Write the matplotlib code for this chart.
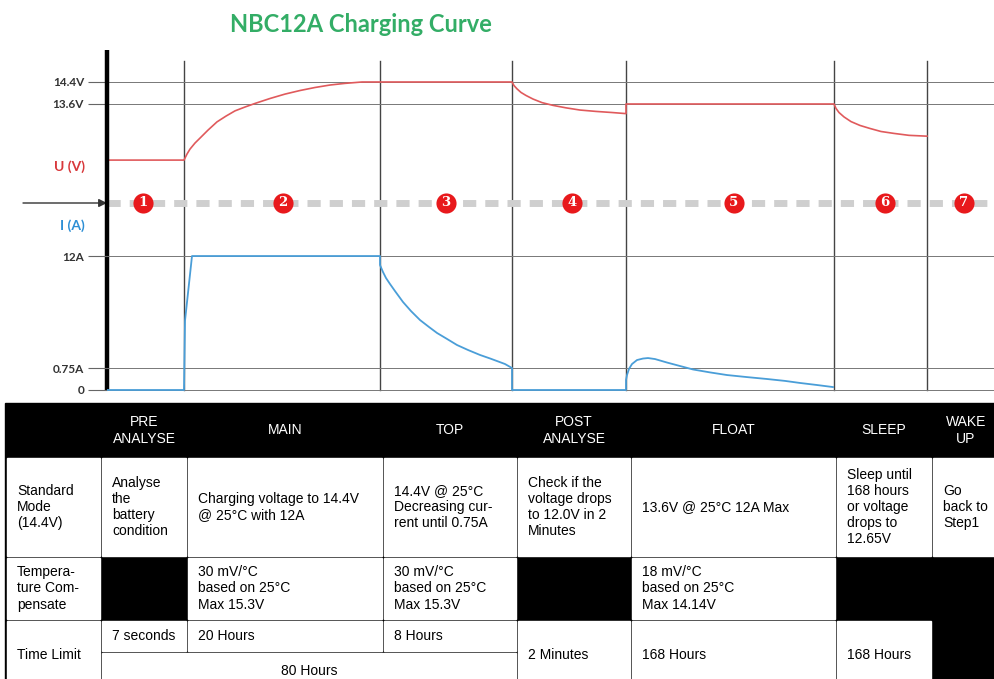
import matplotlib.pyplot as plt
import numpy as np
from matplotlib.patches import Rectangle
from matplotlib.transforms import blended_transform_factory

# schematic time axis, 0 = start of step 1
phase_edges = [77, 273, 405, 519, 727, 820]
t_end = 888
step_labels = ['1', '2', '3', '4', '5', '6', '7']
step_label_t = [36, 176, 339, 465, 627, 778, 857]

# charging voltage U (V)
volt_t = [0, 77, 80, 83, 88, 93, 101, 110, 119, 128, 138, 148, 163, 178, 193, 208, 223, 238, 255,
          405, 407, 410, 414, 419, 426, 435, 446, 459, 473, 489, 505, 519,
          519, 727,
          729, 732, 737, 744, 753, 763, 774, 787, 802, 820]
volt_v = [11.56, 11.56, 11.78, 11.96, 12.18, 12.36, 12.65, 12.95, 13.16, 13.35, 13.49, 13.62, 13.8,
          13.96, 14.09, 14.2, 14.29, 14.35, 14.4,
          14.4, 14.27, 14.15, 14.02, 13.91, 13.78, 13.65, 13.55, 13.46, 13.38, 13.33, 13.29, 13.25,
          13.6, 13.6,
          13.44, 13.29, 13.13, 12.96, 12.82, 12.71, 12.6, 12.53, 12.46, 12.43]

# charging current I (A)
amp_t = [0, 77, 78, 85, 273,
         273, 276, 279, 283, 288, 296, 304, 313, 322, 330, 340, 350, 361, 373, 383, 390, 398, 405,
         405, 519,
         519, 520, 522, 525, 530, 536, 541, 548, 560, 573, 586, 603, 620, 640, 660, 678, 693, 710, 726]
amp_a = [0, 0, 5.5, 12, 12,
         11.1, 10.39, 9.79, 9.19, 8.48, 7.38, 6.47, 5.57, 4.87, 4.27, 3.67, 3.06, 2.56, 2.06, 1.71,
         1.45, 1.15, 0.75,
         0, 0,
         0.34, 0.51, 0.72, 1.15, 1.55, 1.70, 1.75, 1.65, 1.30, 0.95, 0.70, 0.60, 0.51, 0.44, 0.375,
         0.31, 0.24, 0.17, 0.10]

volt_ticks = [14.4, 13.6]
volt_tick_labels = ['14.4V', '13.6V']
amp_ticks = [12, 0.75, 0]
amp_tick_labels = ['12A', '0.75A', '0']

# table
col_edges = [6, 101, 187, 383, 517, 631, 836, 932, 1000]
row_edges = [404, 457, 557, 620, 690]
time_split = 652
headers = ['', 'PRE\nANALYSE', 'MAIN', 'TOP', 'POST\nANALYSE', 'FLOAT', 'SLEEP', 'WAKE\nUP']
standard_mode = ['Standard\nMode\n(14.4V)', 'Analyse\nthe\nbattery\ncondition',
                 'Charging voltage to 14.4V\n@ 25°C with 12A',
                 '14.4V @ 25°C\nDecreasing cur-\nrent until 0.75A',
                 'Check if the\nvoltage drops\nto 12.0V in 2\nMinutes',
                 '13.6V @ 25°C 12A Max',
                 'Sleep until\n168 hours\nor voltage\ndrops to\n12.65V',
                 'Go\nback to\nStep1']
temp_comp = ['Tempera-\nture Com-\npensate', None, '30 mV/°C\nbased on 25°C\nMax 15.3V',
             '30 mV/°C\nbased on 25°C\nMax 15.3V', None,
             '18 mV/°C\nbased on 25°C\nMax 14.14V', None, None]
time_limit = ['Time Limit', '7 seconds', '20 Hours', '8 Hours', '2 Minutes',
              '168 Hours', '168 Hours', None]
total_limit = '80 Hours'

RED = '#e05a5c'
BLUE = '#4a9ed8'

fig = plt.figure(figsize=(9.95, 6.79), dpi=100)

# full-figure axes in pixel units for title, labels and table
axT = fig.add_axes([0, 0, 1, 1])
axT.set_xlim(0, 995)
axT.set_ylim(679, 0)
axT.axis('off')

rect = [107 / 995, 1 - 395 / 679, 888 / 995, 355 / 679]
axV = fig.add_axes(rect)
axV.patch.set_alpha(0)
axI = fig.add_axes(rect, sharex=axV)
axI.patch.set_alpha(0)

# current axis: piecewise linear scale (0 .. 0.75A stretched)
a_knots = [-5, 0, 0.75, 12, 40]
u_knots = [-146.7, 0, 22, 134, 412.8]
fwd = lambda a: np.interp(a, a_knots, u_knots)
inv = lambda u: np.interp(u, u_knots, a_knots)
axI.set_yscale('function', functions=(fwd, inv))

axV.set_xlim(0, t_end)
axV.set_ylim(3.018, 15.927)
axI.set_ylim(-0.1705, 33.70)

for ax, ticks, labels in [(axV, volt_ticks, volt_tick_labels), (axI, amp_ticks, amp_tick_labels)]:
    for s in ax.spines.values():
        s.set_visible(False)
    ax.set_xticks([])
    ax.set_yticks(ticks)
    ax.set_yticklabels(labels, fontweight='bold', fontfamily='Lato')
    ax.yaxis.set_minor_locator(plt.NullLocator())
    ax.tick_params(axis='y', length=14, width=0.8, color='#666', pad=2.5,
                   labelsize=8.5, labelcolor='#333')
    ax.grid(axis='y', color='#777', lw=0.7)

trV = blended_transform_factory(axV.transData, axV.transAxes)
# phase separators
for e in phase_edges:
    axV.plot([e, e], [0.014, 0.941], transform=trV, color='#444', lw=1.0, zorder=1)
# main axis
axV.plot([0, 0], [0.014, 0.972], transform=trV, color='black', lw=3.2,
         solid_capstyle='butt', clip_on=False, zorder=5)
# step line
axV.plot([0, t_end], [0.541, 0.541], transform=trV, color='#cfcfcf', lw=5,
         linestyle=(0, (1.9, 1.3)), dash_capstyle='butt', zorder=2)
axV.scatter(step_label_t, [0.541] * len(step_label_t), transform=trV, s=210,
            color='#e8191c', zorder=6, linewidths=0)
for t, lab in zip(step_label_t, step_labels):
    axV.text(t, 0.541, lab, transform=trV, ha='center', va='center', color='white',
             fontsize=9.5, fontweight='bold', fontfamily='DejaVu Serif', zorder=7)

axV.plot(volt_t, volt_v, color=RED, lw=1.2, zorder=4)
axI.plot(amp_t, amp_a, color=BLUE, lw=1.3, zorder=4)

# labels
axT.text(361, 25, 'NBC12A Charging Curve', ha='center', va='center', fontsize=17,
         fontweight='bold', fontfamily='Lato', color='#33ad66')
axT.text(70, 167, 'U (V)', ha='center', va='center', fontsize=10, fontweight='bold',
         fontfamily='Lato', color='#d8383b')
axT.text(72, 226, 'I (A)', ha='center', va='center', fontsize=10, fontweight='bold',
         fontfamily='Lato', color='#2d8fd5')
axT.annotate('', xy=(107, 203), xytext=(23, 203),
             arrowprops=dict(arrowstyle='-|>', color='#333', lw=1, mutation_scale=12,
                             shrinkA=0, shrinkB=0))

# table
axT.add_patch(Rectangle((5, 403), 995, 290, color='black', zorder=1))
g = 1.3
tkw = dict(fontsize=10, fontfamily='Liberation Sans', linespacing=1.2, zorder=3)


def cell(x0, x1, y0, y1, text, ha='left'):
    axT.add_patch(Rectangle((x0 + g, y0 + g), x1 - x0 - 2 * g, y1 - y0 - 2 * g,
                            color='white', zorder=2))
    if text:
        x = x0 + 11 if ha == 'left' else (x0 + x1) / 2
        axT.text(x, (y0 + y1) / 2, text, ha=ha, va='center', color='black', **tkw)


for i, h in enumerate(headers):
    if h:
        axT.text((col_edges[i] + col_edges[i + 1]) / 2, (row_edges[0] + row_edges[1]) / 2,
                 h, ha='center', va='center', color='white', multialignment='center', **tkw)

for i, txt in enumerate(standard_mode):
    cell(col_edges[i], col_edges[i + 1], row_edges[1], row_edges[2], txt)

for i, txt in enumerate(temp_comp):
    if txt is not None:
        cell(col_edges[i], col_edges[i + 1], row_edges[2], row_edges[3], txt)

for i, txt in enumerate(time_limit):
    if txt is None:
        continue
    if 1 <= i <= 3:
        cell(col_edges[i], col_edges[i + 1], row_edges[3], time_split, txt)
    else:
        cell(col_edges[i], col_edges[i + 1], row_edges[3], row_edges[4], txt)
cell(col_edges[1], col_edges[4], time_split, row_edges[4], total_limit, ha='center')

fig.savefig('out.png', dpi=100)
